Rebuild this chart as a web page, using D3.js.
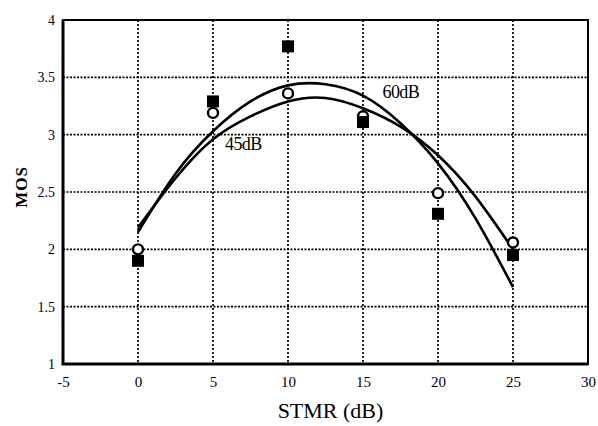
<!DOCTYPE html>
<html>
<head>
<meta charset="utf-8">
<script src="https://cdn.jsdelivr.net/npm/d3@7"></script>
<style>
  body { margin: 0; background: #fff; }
  svg text { font-family: "Liberation Serif", "Times New Roman", serif; fill: #000; }
</style>
</head>
<body>
<svg id="chart" width="598" height="426"></svg>
<script>
// measured points
const stmr = [0, 5, 10, 15, 20, 25];
const mosSquares = [1.9, 3.29, 3.77, 3.11, 2.31, 1.95];
const mosCircles = [2.0, 3.19, 3.36, 3.16, 2.49, 2.06];

// fitted curves
const curveX = [0, 2.5, 5, 7.5, 10, 12.5, 15, 17.5, 20, 22.5, 25];
const curveHigh = [2.15, 2.66, 3.03, 3.29, 3.43, 3.44, 3.34, 3.1, 2.75, 2.27, 1.67];
const curveLow = [2.19, 2.62, 2.96, 3.16, 3.29, 3.32, 3.23, 3.07, 2.82, 2.46, 2.0];

const curveLabels = [
  { text: "45dB", x: 5.8, y: 2.87 },
  { text: "60dB", x: 16.3, y: 3.32 }
];

const xTicks = [-5, 0, 5, 10, 15, 20, 25, 30];
const yTicks = [1, 1.5, 2, 2.5, 3, 3.5, 4];

const svg = d3.select("#chart");
const margin = { top: 20, right: 10, bottom: 62, left: 63 };
const innerWidth = +svg.attr("width") - margin.left - margin.right;
const innerHeight = +svg.attr("height") - margin.top - margin.bottom;

const g = svg.append("g")
  .attr("transform", `translate(${margin.left}, ${margin.top})`);

const x = d3.scaleLinear().domain([-5, 30]).range([0, innerWidth]);
const y = d3.scaleLinear().domain([1, 4]).range([innerHeight, 0]);

// dotted grid
g.selectAll(".vgrid")
  .data(xTicks.slice(1, -1))
  .join("line")
  .attr("x1", d => x(d))
  .attr("x2", d => x(d))
  .attr("y1", 0)
  .attr("y2", innerHeight)
  .attr("stroke", "#000")
  .attr("stroke-width", 1.7)
  .attr("stroke-dasharray", "2,2");

g.selectAll(".hgrid")
  .data(yTicks.slice(1, -1))
  .join("line")
  .attr("x1", 0)
  .attr("x2", innerWidth)
  .attr("y1", d => y(d))
  .attr("y2", d => y(d))
  .attr("stroke", "#000")
  .attr("stroke-width", 1.7)
  .attr("stroke-dasharray", "2,1.5");

// frame
g.append("rect")
  .attr("width", innerWidth)
  .attr("height", innerHeight)
  .attr("fill", "none")
  .attr("stroke", "#000")
  .attr("stroke-width", 2);

g.append("path")
  .attr("d", `M0,0V${innerHeight}H${innerWidth}`)
  .attr("fill", "none")
  .attr("stroke", "#000")
  .attr("stroke-width", 3);

// axes
const xAxis = g.append("g")
  .attr("transform", `translate(0, ${innerHeight})`)
  .call(d3.axisBottom(x).tickValues(xTicks).tickSize(0).tickPadding(12).tickFormat(d => String(d)));
xAxis.select(".domain").remove();
xAxis.selectAll("text").attr("font-size", "15px");

const yAxis = g.append("g")
  .call(d3.axisLeft(y).tickValues(yTicks).tickSize(0).tickPadding(8).tickFormat(d => String(d)));
yAxis.select(".domain").remove();
yAxis.selectAll("text").attr("font-size", "14px");

// curves
const line = d3.line()
  .x((d, i) => x(curveX[i]))
  .y(d => y(d))
  .curve(d3.curveNatural);

[curveHigh, curveLow].forEach(c => {
  g.append("path")
    .datum(c)
    .attr("d", line)
    .attr("fill", "none")
    .attr("stroke", "#000")
    .attr("stroke-width", 2.6);
});

// open circles
g.selectAll(".circ")
  .data(stmr)
  .join("circle")
  .attr("cx", d => x(d))
  .attr("cy", (d, i) => y(mosCircles[i]))
  .attr("r", 5)
  .attr("fill", "#fff")
  .attr("stroke", "#000")
  .attr("stroke-width", 2.4);

// filled squares
const sq = 12;
g.selectAll(".sq")
  .data(stmr)
  .join("rect")
  .attr("x", d => x(d) - sq / 2)
  .attr("y", (d, i) => y(mosSquares[i]) - sq / 2)
  .attr("width", sq)
  .attr("height", sq)
  .attr("fill", "#000");

// curve labels
g.selectAll(".lbl")
  .data(curveLabels)
  .join("text")
  .attr("x", d => x(d.x))
  .attr("y", d => y(d.y))
  .attr("font-size", "18px")
  .attr("letter-spacing", "-0.6px")
  .text(d => d.text);

// axis titles
g.append("text")
  .attr("x", innerWidth / 2 + 5)
  .attr("y", innerHeight + 54)
  .attr("text-anchor", "middle")
  .attr("font-size", "22px")
  .text("STMR (dB)");

g.append("text")
  .attr("transform", "rotate(-90)")
  .attr("x", -167)
  .attr("y", -36)
  .attr("text-anchor", "middle")
  .attr("font-size", "17px")
  .attr("font-weight", "bold")
  .attr("letter-spacing", "1px")
  .text("MOS");
</script>
</body>
</html>
